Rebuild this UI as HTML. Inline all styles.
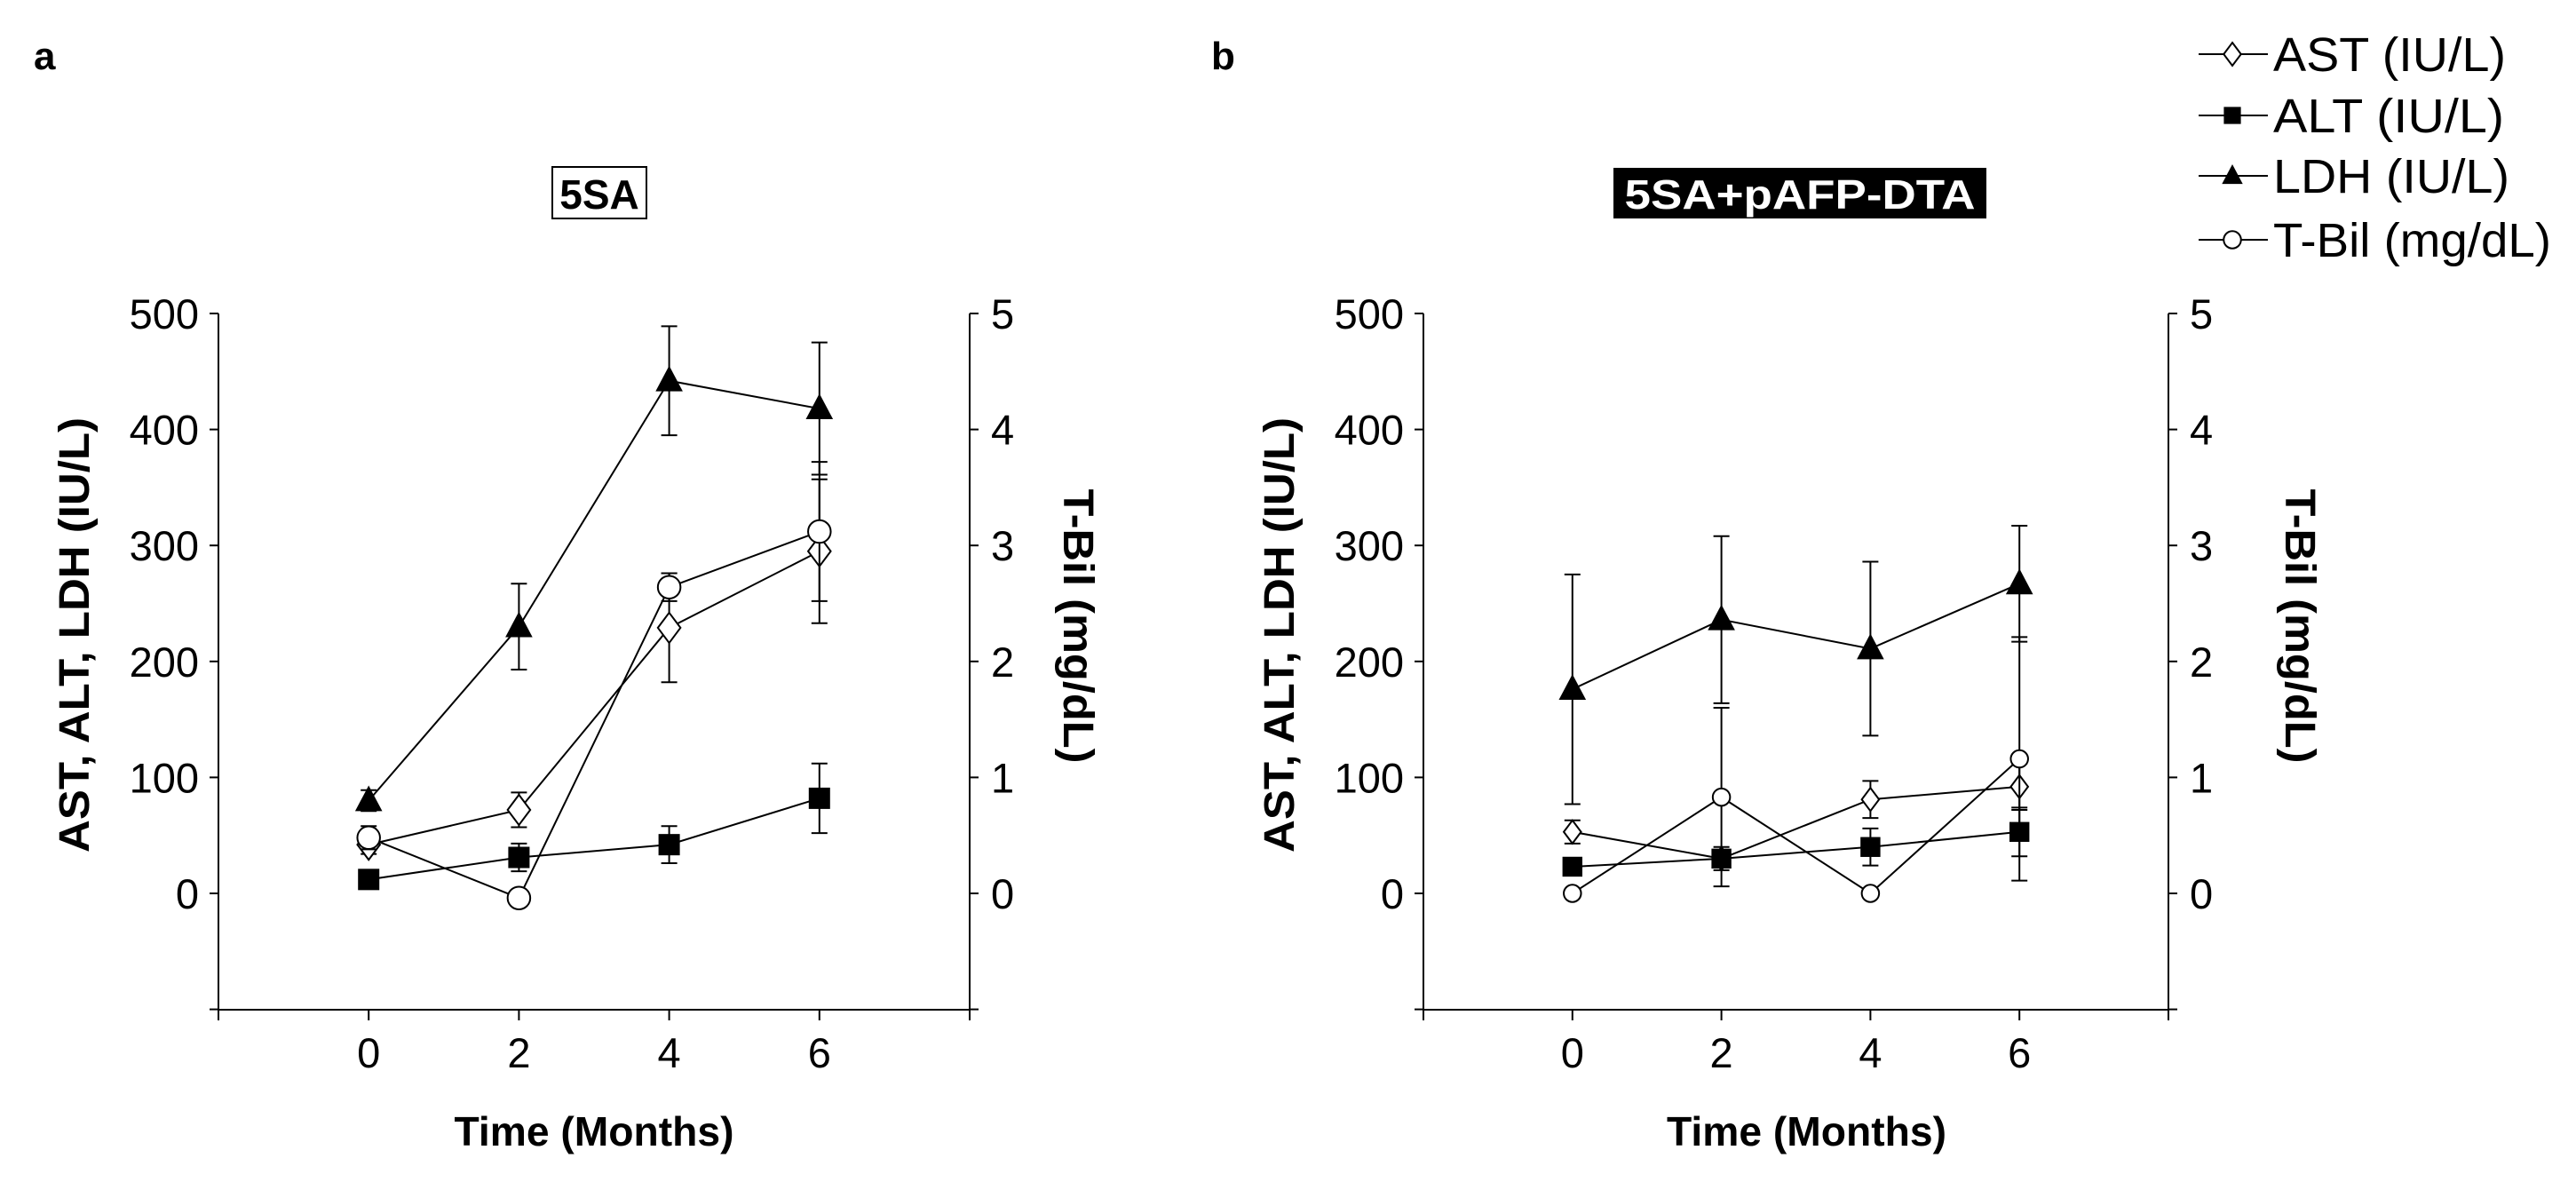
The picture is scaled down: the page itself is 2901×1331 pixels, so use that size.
<!DOCTYPE html>
<html><head><meta charset="utf-8"><style>
body{margin:0;background:#fff}
svg text{font-family:"Liberation Sans",Arial,sans-serif}
</style></head><body>
<svg id="fig" width="2901" height="1326" viewBox="0 0 2901 1326" xmlns="http://www.w3.org/2000/svg">
<text x="38" y="78" font-size="44" font-weight="bold">a</text>
<text x="1364" y="78" font-size="44" font-weight="bold">b</text>
<rect x="622" y="188" width="106" height="58" fill="#fff" stroke="#000" stroke-width="2"/>
<text x="675" y="235" font-size="46" font-weight="bold" text-anchor="middle">5SA</text>
<rect x="1817" y="189" width="420" height="57" fill="#000"/>
<text x="2027" y="235" font-size="46" font-weight="bold" fill="#fff" text-anchor="middle" textLength="395" lengthAdjust="spacingAndGlyphs">5SA+pAFP-DTA</text>
<g id="legend"></g>
<g id="pa"></g>
<g id="pb"></g>
</svg>
<script>
const months = [0, 2, 4, 6];
const yTicks = [0, 100, 200, 300, 400, 500];
const y2Ticks = [0, 1, 2, 3, 4, 5];
const xTicks = [0, 2, 4, 6];
// Panel a
const aAST = [42, 72, 229, 295];
const aASTerr = [8, 15, 47, 62];
const aALT = [12, 31, 42, 82];
const aALTerr = [6, 12, 16, 30];
const aLDH = [80, 230, 442, 418];
const aLDHerr = [9, 37, 47, 57];
const aTBil = [0.48, -0.04, 2.64, 3.12];
const aTBilErr = [0.1, 0.05, 0.12, 0.6];
// Panel b
const bAST = [53, 30, 81, 92];
const bASTerr = [10, 5, 16, 20];
const bALT = [23, 30, 40, 53];
const bALTerr = [6, 10, 16, 21];
const bLDH = [176, 236, 211, 267];
const bLDHerr = [99, 72, 75, 50];
const bTBil = [0, 0.83, 0, 1.16];
const bTBilErr = [0, 0.77, 0, 1.05];

const NS = 'http://www.w3.org/2000/svg';
function mk(parent, tag, attrs, txt){const e=document.createElementNS(NS,tag);for(const k in attrs)e.setAttribute(k,attrs[k]);if(txt!==undefined)e.textContent=txt;parent.appendChild(e);return e;}

function marker(g, type, cx, cy, s){
  let e;
  if(type==='diamond') e=mk(g,'polygon',{points:`${cx},${cy-s} ${cx+s*0.75},${cy} ${cx},${cy+s} ${cx-s*0.75},${cy}`,fill:'#fff',stroke:'#000','stroke-width':2});
  else if(type==='square') e=mk(g,'rect',{x:cx-s*0.8,y:cy-s*0.8,width:s*1.6,height:s*1.6,fill:'#000'});
  else if(type==='triangle') e=mk(g,'polygon',{points:`${cx},${cy-s} ${cx+s*0.9},${cy+s*0.7} ${cx-s*0.9},${cy+s*0.7}`,fill:'#000'});
  else e=mk(g,'circle',{cx:cx,cy:cy,r:s*0.75,fill:'#fff',stroke:'#000','stroke-width':2});
  return e;
}

function panel(gid, L, R, r2off, xtOff, series){
  const g=document.getElementById(gid);
  const T=353, B=1006, BOT=1137;
  const X=v=>L+(v+2)*(R-L)/10;
  const Y=v=>B-v*(B-T)/500;
  const ax=mk(g,'path',{d:`M${L},${T} V${BOT} H${R} V${T}`,fill:'none',stroke:'#000','stroke-width':2});
  
  
  yTicks.concat([-100]).forEach(v=>{mk(g,'line',{x1:L-10,x2:L,y1:Y(v),y2:Y(v),stroke:'#000','stroke-width':2});});
  yTicks.forEach(v=>{const t=mk(g,'text',{x:L-22,y:Y(v)+17,'font-size':47,'text-anchor':'end'},v);});
  y2Ticks.concat([-1]).forEach(v=>{mk(g,'line',{x1:R,x2:R+10,y1:Y(v*100),y2:Y(v*100),stroke:'#000','stroke-width':2});});
  y2Ticks.forEach(v=>{const t=mk(g,'text',{x:R+24,y:Y(v*100)+17,'font-size':47},v);});
  [-2,0,2,4,6,8].forEach(v=>{mk(g,'line',{x1:X(v),x2:X(v),y1:BOT,y2:BOT+12,stroke:'#000','stroke-width':2});});
  xTicks.forEach(v=>{const t=mk(g,'text',{x:X(v),y:1202,'font-size':47,'text-anchor':'middle'},v);});
  const xt=mk(g,'text',{x:(L+R)/2+xtOff,y:1290,'font-size':46,'font-weight':'bold','text-anchor':'middle',textLength:315,lengthAdjust:'spacingAndGlyphs'},'Time (Months)');
  
  const yt=mk(g,'text',{x:0,y:0,'font-size':48,'font-weight':'bold','text-anchor':'middle',textLength:490,lengthAdjust:'spacingAndGlyphs',transform:`translate(${L-146},715) rotate(-90)`},'AST, ALT, LDH (IU/L)');
  
  const y2=mk(g,'text',{x:0,y:0,'font-size':48,'font-weight':'bold','text-anchor':'middle',textLength:309,lengthAdjust:'spacingAndGlyphs',transform:`translate(${R+r2off},705) rotate(90)`},'T-Bil (mg/dL)');
  
  series.forEach(s=>{
    const sg=mk(g,'g',{});
    
    
    const vals=s.vals.map(v=>v*s.k), errs=s.errs.map(v=>v*s.k);
    mk(sg,'polyline',{points:months.map((m,i)=>X(m)+','+Y(vals[i])).join(' '),fill:'none',stroke:'#000','stroke-width':2});
    months.forEach((m,i)=>{
      if(errs[i]>0){
        const x=X(m);
        mk(sg,'line',{x1:x,x2:x,y1:Y(vals[i]+errs[i]),y2:Y(vals[i]-errs[i]),stroke:'#000','stroke-width':2});
        mk(sg,'line',{x1:x-9,x2:x+9,y1:Y(vals[i]+errs[i]),y2:Y(vals[i]+errs[i]),stroke:'#000','stroke-width':2});
        mk(sg,'line',{x1:x-9,x2:x+9,y1:Y(vals[i]-errs[i]),y2:Y(vals[i]-errs[i]),stroke:'#000','stroke-width':2});
      }
    });
    months.forEach((m,i)=>{
      const e=marker(sg,s.type,X(m),Y(vals[i]),s.size);
      
      
    });
  });
}
panel('pa',246,1092,106,0,[
  {name:'ast',type:'diamond',vals:aAST,errs:aASTerr,k:1,size:17},
  {name:'alt',type:'square',vals:aALT,errs:aALTerr,k:1,size:15},
  {name:'ldh',type:'triangle',vals:aLDH,errs:aLDHerr,k:1,size:17},
  {name:'tbil',type:'circle',vals:aTBil,errs:aTBilErr,k:100,size:17}]);
panel('pb',1603,2442,132,12,[
  {name:'ast',type:'diamond',vals:bAST,errs:bASTerr,k:1,size:13},
  {name:'alt',type:'square',vals:bALT,errs:bALTerr,k:1,size:14},
  {name:'ldh',type:'triangle',vals:bLDH,errs:bLDHerr,k:1,size:17},
  {name:'tbil',type:'circle',vals:bTBil,errs:bTBilErr,k:100,size:13}]);

const legNames=['AST (IU/L)','ALT (IU/L)','LDH (IU/L)','T-Bil (mg/dL)'];
const legLens=[262,260,266,313];
const legY=[61,130,198,270];
const legTypes=['diamond','square','triangle','circle'];
const lg=document.getElementById('legend');
legNames.forEach((n,i)=>{
  const y=legY[i];
  const eg=mk(lg,'g',{});
  
  
  mk(eg,'line',{x1:2476,x2:2554,y1:y,y2:y,stroke:'#000','stroke-width':2});
  marker(eg,legTypes[i],2514,y,legTypes[i]==='square'?12:13);
  mk(eg,'text',{x:2560,y:y+19,'font-size':54,textLength:legLens[i],lengthAdjust:'spacingAndGlyphs'},n);
});
</script>
</body></html>
